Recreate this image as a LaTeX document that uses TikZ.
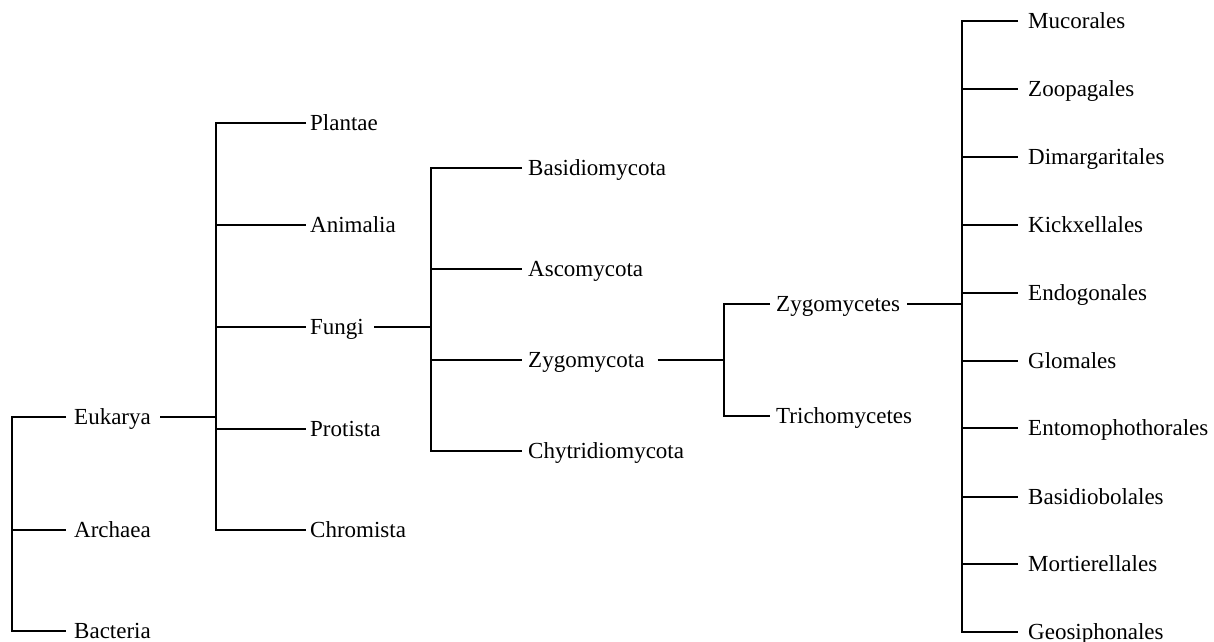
\documentclass[tikz,border=0pt]{standalone}
\usepackage{fontspec}
\setmainfont{Liberation Serif}
\begin{document}
\begin{tikzpicture}[x=1pt,y=-1pt,
  lab/.style={anchor=west, inner sep=0pt, text height=15pt, text depth=0pt, font=\fontsize{23}{27}\selectfont},
  br/.style={line width=1.9pt, black}]
\useasboundingbox (0,0) rectangle (1214,641);
% bar positions
\coordinate (r0) at (12,0);
\coordinate (r1) at (216,0);
\coordinate (r2) at (431,0);
\coordinate (r3) at (724,0);
\coordinate (r4) at (962,0);
% domains
\node[lab] (euk) at (74,417) {Eukarya};
\node[lab] (arc) at (74,530) {Archaea};
\node[lab] (bac) at (74,631) {Bacteria};
% kingdoms
\node[lab] (pla) at (310,123) {Plantae};
\node[lab] (ani) at (310,225) {Animalia};
\node[lab] (fun) at (310,327) {Fungi};
\node[lab] (pro) at (310,429) {Protista};
\node[lab] (chr) at (310,530) {Chromista};
% phyla
\node[lab] (bas) at (528,168) {Basidiomycota};
\node[lab] (asc) at (528,269) {Ascomycota};
\node[lab] (zyg) at (528,360) {Zygomycota};
\node[lab] (chy) at (528,451) {Chytridiomycota};
% classes
\node[lab] (zyc) at (776,304) {Zygomycetes};
\node[lab] (tri) at (776,416) {Trichomycetes};
% orders
\node[lab] (o1) at (1028,21) {Mucorales};
\node[lab] (o2) at (1028,89) {Zoopagales};
\node[lab] (o3) at (1028,157) {Dimargaritales};
\node[lab] (o4) at (1028,225) {Kickxellales};
\node[lab] (o5) at (1028,293) {Endogonales};
\node[lab] (o6) at (1028,361) {Glomales};
\node[lab] (o7) at (1028,428) {Entomophothorales};
\node[lab] (o8) at (1028,497) {Basidiobolales};
\node[lab] (o9) at (1028,564) {Mortierellales};
\node[lab] (o10) at (1028,632) {Geosiphonales};
% root
\draw[br] ([xshift=-8pt]euk.west) -| (r0 |- bac.west) -- ([xshift=-8pt]bac.west);
\draw[br] (r0 |- arc.west) -- ([xshift=-8pt]arc.west);
% Eukarya -> kingdoms
\draw[br] ([xshift=9pt]euk.east) -- (r1 |- euk.east);
\draw[br] ([xshift=-4pt]pla.west) -| (r1 |- chr.west) -- ([xshift=-4pt]chr.west);
\foreach \n in {ani,fun,pro} \draw[br] (r1 |- \n.west) -- ([xshift=-4pt]\n.west);
% Fungi -> phyla
\draw[br] ([xshift=10pt]fun.east) -- (r2 |- fun.east);
\draw[br] ([xshift=-6pt]bas.west) -| (r2 |- chy.west) -- ([xshift=-6pt]chy.west);
\foreach \n in {asc,zyg} \draw[br] (r2 |- \n.west) -- ([xshift=-6pt]\n.west);
% Zygomycota -> classes
\draw[br] ([xshift=13pt]zyg.east) -- (r3 |- zyg.east);
\draw[br] ([xshift=-6pt]zyc.west) -| (r3 |- tri.west) -- ([xshift=-6pt]tri.west);
% Zygomycetes -> orders
\draw[br] ([xshift=7pt]zyc.east) -- (r4 |- zyc.east);
\draw[br] ([xshift=-10pt]o1.west) -| (r4 |- o10.west) -- ([xshift=-10pt]o10.west);
\foreach \n in {o2,o3,o4,o5,o6,o7,o8,o9} \draw[br] (r4 |- \n.west) -- ([xshift=-10pt]\n.west);
\end{tikzpicture}
\end{document}
